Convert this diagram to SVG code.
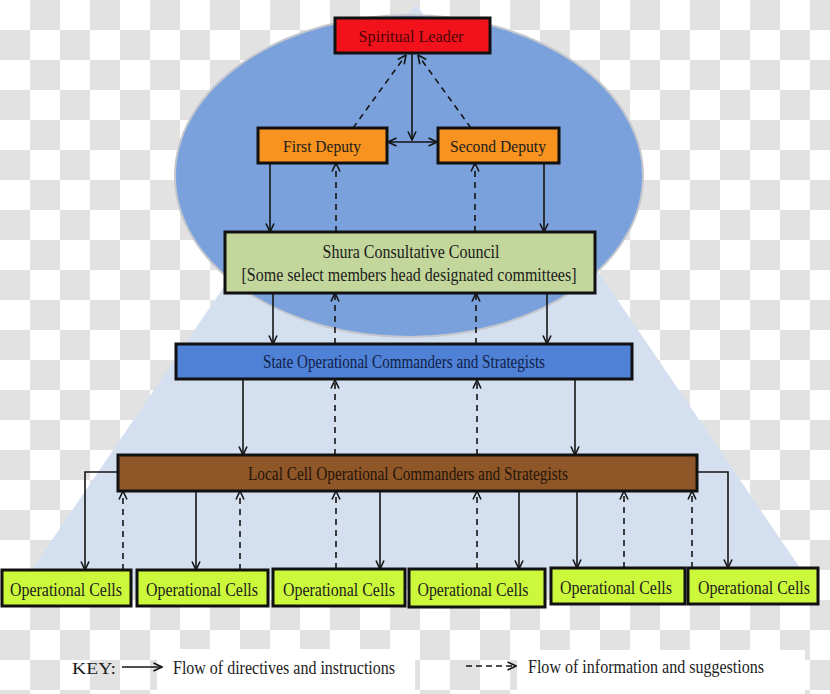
<svg xmlns="http://www.w3.org/2000/svg" width="830" height="694" viewBox="0 0 830 694">
<defs>
<pattern id="checker" x="0" y="0" width="60" height="60" patternUnits="userSpaceOnUse">
<rect x="0" y="0" width="60" height="60" fill="#ffffff"/>
<rect x="30" y="0" width="30" height="30" fill="#e2e2e2"/>
<rect x="0" y="30" width="30" height="30" fill="#e2e2e2"/>
</pattern>
<marker id="arr" viewBox="0 0 10 10" refX="9.5" refY="5" markerWidth="10" markerHeight="10" markerUnits="userSpaceOnUse" orient="auto-start-reverse">
<path d="M1,1 L9.5,5 L1,9" fill="none" stroke="#151515" stroke-width="1.6"/>
</marker>
</defs>
<style>
.box{stroke:#111;stroke-width:3}
.t{font-family:"Liberation Serif","Times New Roman",serif;text-anchor:middle;fill:#1c1c1c}
.solid{fill:none;stroke:#151515;stroke-width:1.6;marker-end:url(#arr)}
.dash{fill:none;stroke:#151515;stroke-width:1.6;stroke-dasharray:6 5;marker-end:url(#arr)}
.cell{fill:#ccf83c}
.ct{font-size:19px}
</style>
<rect x="0" y="0" width="830" height="694" fill="url(#checker)"/>
<polygon points="416,4 18,590 815,590" fill="#d4dff0"/>
<ellipse cx="409" cy="176" rx="234" ry="161" fill="#7aa1dc" stroke="#c4c8ce" stroke-width="2"/>

<rect x="157" y="649" width="258" height="45" fill="#ffffff"/>
<rect x="517" y="650" width="288" height="44" fill="#ffffff"/>

<g id="connectors">
<line class="dash" x1="353" y1="128" x2="406" y2="55"/>
<line class="dash" x1="471" y1="128" x2="418" y2="55"/>
<line class="solid" x1="412" y1="54" x2="412" y2="140"/>
<line class="solid" x1="388" y1="142" x2="437" y2="142" style="marker-start:url(#arr)"/>

<line class="solid" x1="270" y1="163" x2="270" y2="232"/>
<line class="dash" x1="336" y1="232" x2="336" y2="163"/>
<line class="dash" x1="475" y1="232" x2="475" y2="163"/>
<line class="solid" x1="544" y1="163" x2="544" y2="232"/>

<line class="solid" x1="273" y1="293" x2="273" y2="344"/>
<line class="dash" x1="335" y1="344" x2="335" y2="293"/>
<line class="dash" x1="476" y1="344" x2="476" y2="293"/>
<line class="solid" x1="547" y1="293" x2="547" y2="344"/>

<line class="solid" x1="243" y1="380" x2="243" y2="455"/>
<line class="dash" x1="335" y1="455" x2="335" y2="380"/>
<line class="dash" x1="477" y1="455" x2="477" y2="380"/>
<line class="solid" x1="575" y1="380" x2="575" y2="455"/>

<polyline class="solid" points="118,472 85,472 85,570"/>
<line class="dash" x1="123" y1="570" x2="123" y2="491"/>
<line class="solid" x1="196" y1="491" x2="196" y2="570"/>
<line class="dash" x1="240" y1="570" x2="240" y2="491"/>
<line class="dash" x1="336" y1="569" x2="336" y2="491"/>
<line class="solid" x1="380" y1="491" x2="380" y2="569"/>
<line class="dash" x1="477" y1="569" x2="477" y2="491"/>
<line class="solid" x1="519" y1="491" x2="519" y2="569"/>
<line class="solid" x1="577" y1="491" x2="577" y2="568"/>
<line class="dash" x1="624" y1="568" x2="624" y2="491"/>
<line class="dash" x1="692" y1="568" x2="692" y2="491"/>
<polyline class="solid" points="697,472 728,472 728,568"/>
</g>

<g id="spiritual-leader">
<rect class="box" x="335" y="18" width="155" height="35" fill="#f2121b" stroke-width="2.5"/>
<text class="t" x="411" y="42" font-size="17" style="fill:#4a0606" textLength="105" lengthAdjust="spacingAndGlyphs">Spiritual  Leader</text>
</g>
<g id="first-deputy">
<rect class="box" x="258" y="128" width="129" height="35" fill="#f7931e" stroke-width="2.5"/>
<text class="t" x="322" y="152" font-size="17" textLength="78" lengthAdjust="spacingAndGlyphs">First Deputy</text>
</g>
<g id="second-deputy">
<rect class="box" x="438" y="128" width="121" height="35" fill="#f7931e" stroke-width="2.5"/>
<text class="t" x="498" y="152" font-size="17" textLength="96" lengthAdjust="spacingAndGlyphs">Second Deputy</text>
</g>
<g id="shura">
<rect class="box" x="225" y="232" width="370" height="61" fill="#c3d69b"/>
<text class="t" x="411" y="258" font-size="19" textLength="177" lengthAdjust="spacingAndGlyphs">Shura Consultative Council</text>
<text class="t" x="409" y="281" font-size="19" textLength="335" lengthAdjust="spacingAndGlyphs">[Some select members head designated committees]</text>
</g>
<g id="state">
<rect class="box" x="176" y="344" width="456" height="35" fill="#4f82d6"/>
<text class="t" x="404" y="368" font-size="18" style="fill:#10214a" textLength="282" lengthAdjust="spacingAndGlyphs">State Operational Commanders and Strategists</text>
</g>
<g id="local-cell">
<rect class="box" x="118" y="455" width="579" height="36" fill="#8f5728"/>
<text class="t" x="408" y="480" font-size="18" style="fill:#26140a" textLength="320" lengthAdjust="spacingAndGlyphs">Local Cell Operational Commanders  and Strategists</text>
</g>
<g id="cell-1">
<rect class="box cell" x="2" y="570" width="129" height="36"/>
<text class="t ct" x="66" y="596" textLength="112" lengthAdjust="spacingAndGlyphs">Operational Cells</text>
</g>
<g id="cell-2">
<rect class="box cell" x="137" y="570" width="131" height="36"/>
<text class="t ct" x="202" y="596" textLength="112" lengthAdjust="spacingAndGlyphs">Operational Cells</text>
</g>
<g id="cell-3">
<rect class="box cell" x="273" y="569" width="132" height="37"/>
<text class="t ct" x="339" y="596" textLength="112" lengthAdjust="spacingAndGlyphs">Operational Cells</text>
</g>
<g id="cell-4">
<rect class="box cell" x="409" y="569" width="136" height="38"/>
<text class="t ct" x="473" y="596" textLength="111" lengthAdjust="spacingAndGlyphs">Operational Cells</text>
</g>
<g id="cell-5">
<rect class="box cell" x="551" y="568" width="134" height="36"/>
<text class="t ct" x="616" y="594" textLength="112" lengthAdjust="spacingAndGlyphs">Operational Cells</text>
</g>
<g id="cell-6">
<rect class="box cell" x="688" y="568" width="130" height="36"/>
<text class="t ct" x="754" y="594" textLength="112" lengthAdjust="spacingAndGlyphs">Operational Cells</text>
</g>

<g id="key">
<text x="72" y="674" font-family="'Liberation Serif','Times New Roman',serif" font-size="17" fill="#1c1c1c" textLength="44" lengthAdjust="spacingAndGlyphs">KEY:</text>
<line class="solid" x1="122" y1="667" x2="162" y2="667"/>
<text x="173" y="674" font-family="'Liberation Serif','Times New Roman',serif" font-size="19" fill="#1c1c1c" textLength="222" lengthAdjust="spacingAndGlyphs">Flow of directives and instructions</text>
<line class="dash" x1="466" y1="666" x2="516" y2="666" style="stroke-dasharray:6 4"/>
<text x="528" y="673" font-family="'Liberation Serif','Times New Roman',serif" font-size="19" fill="#1c1c1c" textLength="236" lengthAdjust="spacingAndGlyphs">Flow of information and suggestions</text>
</g>
</svg>
